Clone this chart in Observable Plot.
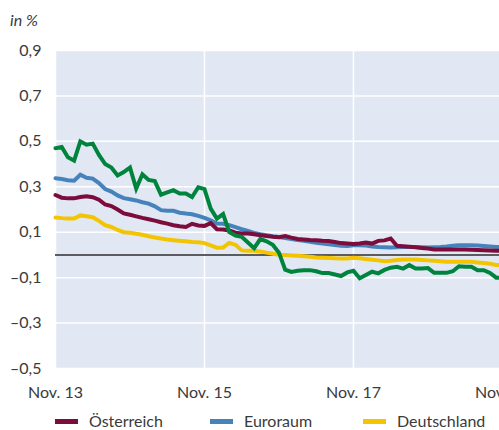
<!DOCTYPE html>
<html><head><meta charset="utf-8">
<script src="https://cdn.jsdelivr.net/npm/d3@7"></script>
<script src="https://cdn.jsdelivr.net/npm/@observablehq/plot@0.6"></script>
<style>
body{margin:0;width:499px;height:430px;overflow:hidden;background:#fff;font-family:Lato,sans-serif;color:#3a3a3a;position:relative}
#unit{position:absolute;left:10px;top:10px;font-style:italic;font-size:16px;line-height:20px}
#chart{position:absolute;left:0;top:36px;width:510px}
#chart svg{max-width:none !important}
.item{position:absolute;top:411px;display:flex;align-items:center;font-size:16px;line-height:20px;white-space:nowrap}
.sw{width:23px;height:5px;margin-right:11px}
</style>
</head><body>
<div id="unit">in %</div>
<div id="chart"></div>
<div id="legend"></div>
<script>
// months since Nov. 2013 (monthly observations)
const monthIndex = d3.range(73);
const xTickPos = [0, 24, 48, 72];
const xTickLabels = ["Nov. 13", "Nov. 15", "Nov. 17", "Nov. 19"];
const yTicks = [0.9, 0.7, 0.5, 0.3, 0.1, -0.1, -0.3, -0.5];

const seriesNames = ["Österreich", "Euroraum", "Deutschland", "Italien"];
const seriesColors = ["#7b0c3b", "#4683ba", "#f2c500", "#00843d"];
const legendNames = ["Österreich", "Euroraum", "Deutschland"];

const oesterreich = [0.264,0.252,0.249,0.249,0.255,0.258,0.254,0.243,0.222,0.215,0.200,0.183,0.177,0.170,0.163,0.157,0.151,0.144,0.138,0.131,0.126,0.123,0.137,0.130,0.128,0.140,0.113,0.112,0.108,0.098,0.094,0.094,0.091,0.087,0.083,0.080,0.078,0.083,0.076,0.070,0.068,0.066,0.065,0.062,0.061,0.057,0.052,0.050,0.048,0.050,0.055,0.050,0.062,0.064,0.072,0.040,0.038,0.036,0.034,0.031,0.028,0.024,0.024,0.024,0.024,0.024,0.024,0.023,0.022,0.021,0.020,0.018,0.018];
const euroraum = [0.338,0.334,0.329,0.327,0.353,0.340,0.336,0.316,0.290,0.279,0.262,0.250,0.245,0.240,0.232,0.226,0.214,0.197,0.194,0.194,0.186,0.182,0.179,0.172,0.163,0.152,0.138,0.137,0.131,0.122,0.113,0.106,0.097,0.091,0.087,0.082,0.079,0.074,0.070,0.066,0.062,0.058,0.054,0.050,0.047,0.044,0.040,0.039,0.043,0.043,0.041,0.037,0.035,0.034,0.033,0.034,0.035,0.035,0.035,0.034,0.033,0.034,0.035,0.037,0.040,0.043,0.043,0.043,0.041,0.039,0.037,0.035,0.035];
const deutschland = [0.165,0.162,0.160,0.160,0.174,0.170,0.166,0.150,0.131,0.123,0.110,0.100,0.098,0.093,0.089,0.082,0.077,0.072,0.068,0.065,0.062,0.060,0.057,0.056,0.052,0.042,0.032,0.033,0.053,0.045,0.020,0.018,0.018,0.015,0.010,0.005,0.001,0.000,-0.002,-0.004,-0.006,-0.008,-0.011,-0.012,-0.013,-0.015,-0.016,-0.016,-0.012,-0.015,-0.018,-0.021,-0.024,-0.028,-0.026,-0.022,-0.020,-0.020,-0.020,-0.022,-0.024,-0.026,-0.028,-0.030,-0.030,-0.030,-0.030,-0.030,-0.033,-0.036,-0.039,-0.044,-0.045];
const italien = [0.470,0.475,0.430,0.415,0.500,0.485,0.490,0.440,0.400,0.385,0.350,0.365,0.385,0.292,0.355,0.330,0.325,0.265,0.275,0.285,0.270,0.270,0.255,0.298,0.290,0.204,0.160,0.180,0.100,0.085,0.080,0.055,0.030,0.070,0.060,0.045,0.010,-0.065,-0.075,-0.070,-0.067,-0.067,-0.072,-0.080,-0.080,-0.086,-0.093,-0.077,-0.070,-0.103,-0.088,-0.074,-0.081,-0.066,-0.056,-0.052,-0.060,-0.045,-0.060,-0.060,-0.058,-0.079,-0.079,-0.079,-0.072,-0.050,-0.052,-0.052,-0.067,-0.067,-0.079,-0.100,-0.100];

const seriesValues = [oesterreich, euroraum, deutschland, italien];
// drawing order: Deutschland, Euroraum, Österreich, Italien
const drawOrder = [2, 1, 0, 3];
const rows = [];
for (const s of drawOrder) {
  seriesValues[s].forEach((v, i) => rows.push({m: monthIndex[i], v, s: seriesNames[s]}));
}
const fmt = d => d.toFixed(1).replace(".", ",").replace("-", "\u2013");

const chart = Plot.plot({
  width: 510, height: 369,
  marginLeft: 55, marginRight: 0, marginTop: 14, marginBottom: 37,
  style: {fontFamily: "Lato, sans-serif", fontSize: "16px", color: "#3a3a3a", background: "transparent", overflow: "visible", maxWidth: "none"},
  x: {domain: [0, 73.3], ticks: xTickPos, tickFormat: d => xTickLabels[xTickPos.indexOf(d)], tickSize: 0, tickPadding: 18, label: null},
  y: {domain: [-0.5, 0.9], ticks: yTicks, tickFormat: fmt, tickSize: 0, tickPadding: 14, label: null},
  color: {domain: seriesNames, range: seriesColors},
  marks: [
    Plot.frame({fill: "#e1e8f4", stroke: null}),
    Plot.ruleY(yTicks, {stroke: "#ffffff", strokeWidth: 1.5}),
    Plot.ruleX(xTickPos, {stroke: "#ffffff", strokeWidth: 1.5}),
    Plot.ruleY([0], {stroke: "#5c5c60", strokeWidth: 2}),
    Plot.line(rows, {x: "m", y: "v", z: "s", stroke: "s", strokeWidth: 4, strokeLinejoin: "miter", strokeMiterlimit: 3})
  ]
});
document.getElementById("chart").appendChild(chart);

const legendLeft = [55, 210, 363];
const legend = document.getElementById("legend");
legendNames.forEach((name, i) => {
  const it = document.createElement("div");
  it.className = "item";
  it.style.left = legendLeft[i] + "px";
  const sw = document.createElement("span");
  sw.className = "sw";
  sw.style.background = seriesColors[seriesNames.indexOf(name)];
  it.appendChild(sw);
  it.appendChild(document.createTextNode(name));
  legend.appendChild(it);
});
</script>
</body></html>
